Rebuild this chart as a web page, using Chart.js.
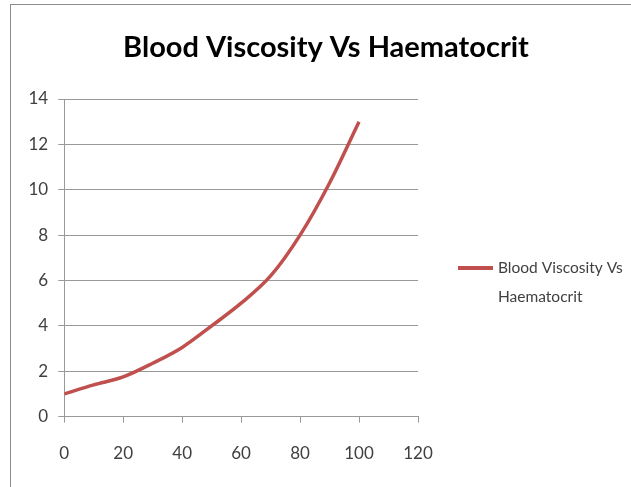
<!DOCTYPE html>
<html>
<head>
<meta charset="utf-8">
<script src="https://cdn.jsdelivr.net/npm/chart.js@4.4.1/dist/chart.umd.min.js"></script>
<style>
  html, body { margin: 0; padding: 0; background: #fff; overflow: hidden; }
  #frame {
    position: absolute; left: 10px; top: 4px; width: 640px; height: 500px;
    border: 1px solid #8c8c8c;
  }
  #wrap { position: absolute; left: 0; top: 0; width: 631px; height: 487px; }
</style>
</head>
<body>
<div id="frame"></div>
<div id="wrap"><canvas id="chart" width="631" height="487"></canvas></div>
<script>
const FONT = "'Lato', 'Open Sans', sans-serif";

/** Chart values. */
const seriesName = 'Blood Viscosity Vs Haematocrit';
const haematocrit = [0, 10, 20, 30, 40, 50, 60, 70, 80, 90, 100];
const viscosity = [1, 1.4, 1.75, 2.35, 3.05, 4.0, 5.0, 6.2, 8.0, 10.3, 13.0];
const xTicks = [0, 20, 40, 60, 80, 100, 120];
const yTicks = [0, 2, 4, 6, 8, 10, 12, 14];

/** Title centred on the whole frame, and a two-line legend on the right. */
const decorations = {
  id: 'decorations',
  afterDraw(chart) {
    const ctx = chart.ctx;
    const ds = chart.data.datasets[0];
    ctx.save();
    ctx.fillStyle = '#000';
    ctx.font = 'bold 29px ' + FONT;
    ctx.textAlign = 'center';
    ctx.textBaseline = 'middle';
    ctx.fillText(seriesName, 326, 48);

    const x0 = 458, y0 = 268;
    ctx.strokeStyle = ds.borderColor;
    ctx.lineWidth = 4;
    ctx.beginPath();
    ctx.moveTo(x0, y0);
    ctx.lineTo(x0 + 35, y0);
    ctx.stroke();
    ctx.fillStyle = '#404040';
    ctx.font = '15.5px ' + FONT;
    ctx.textAlign = 'left';
    ctx.fillText('Blood Viscosity Vs', x0 + 40, y0);
    ctx.fillText('Haematocrit', x0 + 40, y0 + 29);
    ctx.restore();
  }
};

const config = {
  type: 'line',
  data: {
    datasets: [
      {
        label: seriesName,
        data: haematocrit.map((h, i) => ({ x: h, y: viscosity[i] })),
        borderColor: '#C0504D',
        borderWidth: 3.5,
        pointRadius: 0,
        tension: 0.4,
        cubicInterpolationMode: 'monotone',
        fill: false,
      },
    ],
  },
  options: {
    responsive: false,
    animation: false,
    layout: { padding: { left: 18.5, right: 213, top: 99, bottom: 2 } },
    plugins: {
      legend: { display: false },
      tooltip: { enabled: false },
      title: { display: false },
    },
    scales: {
      x: {
        type: 'linear',
        min: 0,
        max: 120,
        afterBuildTicks: (axis) => { axis.ticks = xTicks.map((v) => ({ value: v })); },
        grid: { drawOnChartArea: false, drawTicks: true, tickLength: 6, color: '#999' },
        border: { color: '#999' },
        ticks: { color: '#404040', font: { family: FONT, size: 17 }, padding: 21 },
      },
      y: {
        type: 'linear',
        min: 0,
        max: 14,
        afterBuildTicks: (axis) => { axis.ticks = yTicks.map((v) => ({ value: v })); },
        grid: { color: '#999', tickLength: 6 },
        border: { color: '#999' },
        ticks: { color: '#404040', font: { family: FONT, size: 17 }, padding: 10 },
      },
    },
  },
  plugins: [decorations],
};

new Chart(document.getElementById('chart').getContext('2d'), config);
</script>
</body>
</html>
